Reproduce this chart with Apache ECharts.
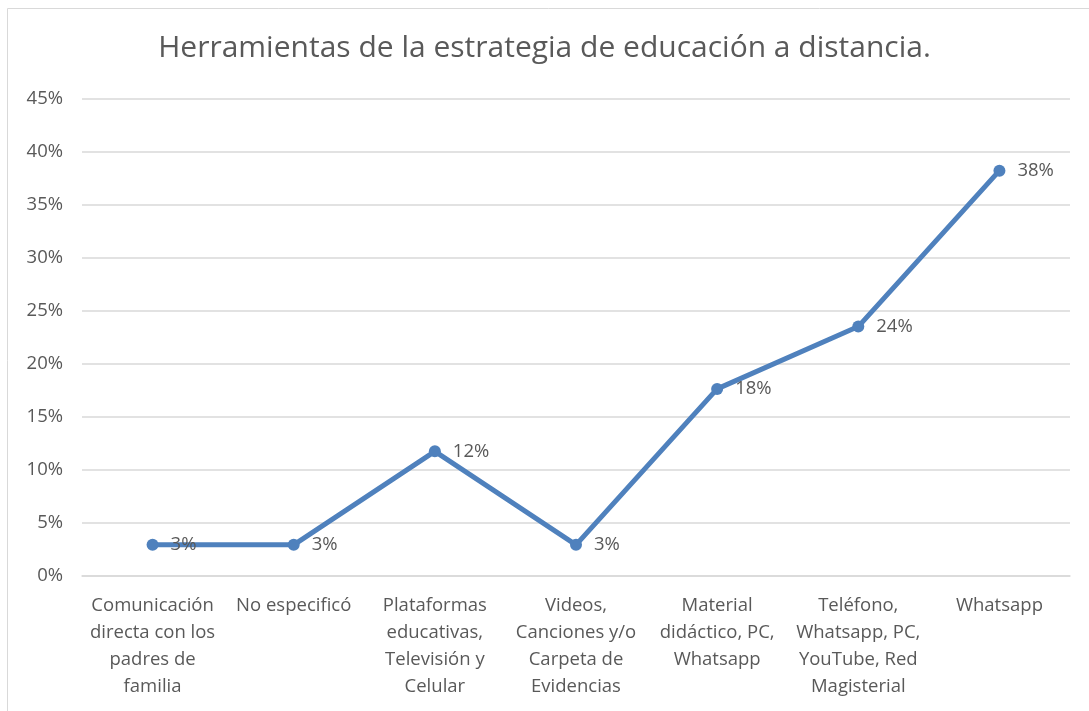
<!DOCTYPE html>
<html>
<head>
<meta charset="utf-8">
<script src="https://cdn.jsdelivr.net/npm/echarts@6/dist/echarts.min.js"></script>
<style>
  html, body { margin: 0; padding: 0; background: #fff; }
  #chart { width: 1089px; height: 711px; }
</style>
</head>
<body>
<div id="chart"></div>
<script>
// categorías (con saltos de línea como en el original)
const categories = [
    'Comunicación\ndirecta con los\npadres de\nfamilia',
    'No especificó',
    'Plataformas\neducativas,\nTelevisión y\nCelular',
    'Videos,\nCanciones y/o\nCarpeta de\nEvidencias',
    'Material\ndidáctico, PC,\nWhatsapp',
    'Teléfono,\nWhatsapp, PC,\nYouTube, Red\nMagisterial',
    'Whatsapp'
];
// porcentajes
const values = [2.94, 2.94, 11.76, 2.94, 17.65, 23.53, 38.24];
const yTicks = [0, 5, 10, 15, 20, 25, 30, 35, 40, 45];

const textColor = '#595959';
const lineColor = '#4f81bd';
const font = '"Open Sans", sans-serif';

const chart = echarts.init(document.getElementById('chart'));
chart.setOption({
    animation: false,
    textStyle: { fontFamily: font },
    title: {
        text: 'Herramientas de la estrategia de educación a distancia.',
        left: 'center',
        top: 28,
        textStyle: { color: textColor, fontSize: 30, fontWeight: 'normal', fontFamily: font }
    },
    graphic: [{
        type: 'rect',
        shape: { x: 7.5, y: 8.5, width: 1200, height: 800 },
        style: { fill: 'none', stroke: '#d9d9d9', lineWidth: 1 },
        silent: true
    }],
    grid: { left: 82, right: 19, top: 99, bottom: 135 },
    xAxis: {
        type: 'category',
        data: categories,
        axisLine: { lineStyle: { color: '#d9d9d9', width: 1.5 } },
        axisTick: { show: false },
        axisLabel: {
            color: textColor,
            fontSize: 18.5,
            lineHeight: 27,
            interval: 0,
            margin: 16,
            align: 'center'
        }
    },
    yAxis: {
        type: 'value',
        min: yTicks[0],
        max: yTicks[yTicks.length - 1],
        interval: 5,
        axisLine: { show: false },
        axisTick: { show: false },
        axisLabel: { color: textColor, fontSize: 18.5, margin: 19, formatter: '{value}%' },
        splitLine: { lineStyle: { color: '#d9d9d9', width: 1.5 } }
    },
    series: [{
        type: 'line',
        data: values,
        symbol: 'circle',
        symbolSize: 12,
        lineStyle: { color: lineColor, width: 5 },
        itemStyle: { color: lineColor },
        label: {
            show: true,
            position: 'right',
            distance: 12,
            color: textColor,
            fontSize: 18.5,
            formatter: p => Math.round(p.value) + '%'
        }
    }]
});
</script>
</body>
</html>
